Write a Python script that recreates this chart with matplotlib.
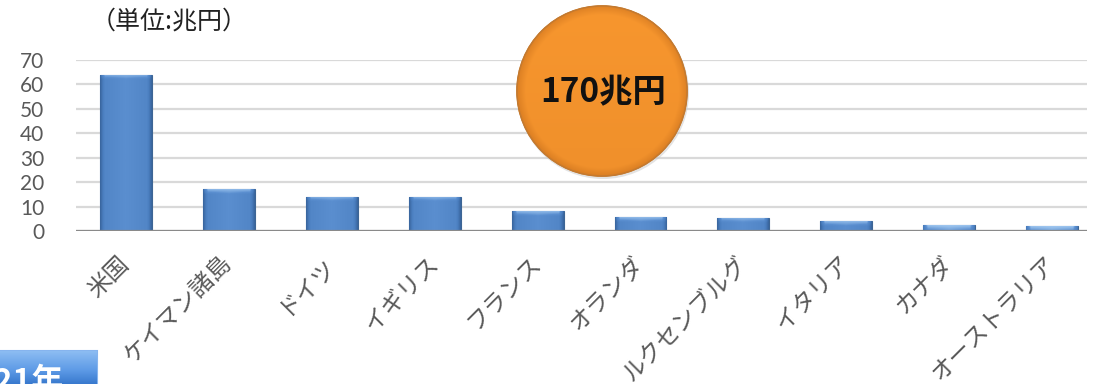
import numpy as np
import matplotlib
matplotlib.use("Agg")
import matplotlib.pyplot as plt
from matplotlib.patches import Rectangle, Ellipse
from matplotlib.colors import LinearSegmentedColormap

# Data (兆円)
countries = ["米国", "ケイマン諸島", "ドイツ", "イギリス", "フランス",
             "オランダ", "ルクセンブルグ", "イタリア", "カナダ", "オーストラリア"]
values = [64, 17, 14, 14, 8, 5.6, 5.4, 4, 2.6, 2.2]
y_ticks = [0, 10, 20, 30, 40, 50, 60, 70]
total_label = "170兆円"
unit_label = "（単位:兆円）"
year_label = "2021年"

W, H = 1097, 384
DPI = 100
fig = plt.figure(figsize=(W / DPI, H / DPI), dpi=DPI)
fig.patch.set_facecolor("white")

CJK = ["Noto Sans CJK JP", "DejaVu Sans"]
GRAY = "#595959"

# main axes placed in pixel units
ax_l, ax_r, ax_b, ax_t = 76, 1087, 153, 324
ax = fig.add_axes([ax_l / W, ax_b / H, (ax_r - ax_l) / W, (ax_t - ax_b) / H])
step = 102.9
x0 = 126
xlim = (-(x0 - ax_l) / step, (ax_r - x0) / step)
ax.set_xlim(*xlim)
ax.set_ylim(0, 70)
for s in ax.spines.values():
    s.set_visible(False)

ax.set_yticks(y_ticks)
ax.tick_params(axis="y", length=0, pad=23, labelsize=15, labelcolor=GRAY)
for lab in ax.get_yticklabels():
    lab.set_fontfamily(["Lato", "DejaVu Sans"])
ax.yaxis.grid(True, color="#d9d9d9", linewidth=1.6, zorder=0)
ax.set_axisbelow(True)
ax.axhline(0, color="#8a8a8a", linewidth=1.6, zorder=4)

x = np.arange(len(countries))
bars = ax.bar(x, values, width=0.505, color="#4a7ebf", edgecolor="#3d6594",
              linewidth=0.8, zorder=2)

ax.set_xticks(x)
ax.set_xticklabels(countries, rotation=45, ha="right", va="center",
                   rotation_mode="anchor", fontsize=17, color=GRAY,
                   fontfamily=CJK)
ax.tick_params(axis="x", length=0, pad=21)

# bevelled gradient fill for each bar
bevel = LinearSegmentedColormap.from_list(
    "bevel", ["#30588c", "#4a7ebf", "#5b8fd0", "#9cc4ee"])
px_per_unit = (ax_t - ax_b) / 70.0
for b in bars:
    bx, by = b.get_x(), b.get_y()
    bw, bh = b.get_width(), b.get_height()
    wpx = 52
    hpx = max(int(round(bh * px_per_unit)), 2)
    xs = np.arange(wpx) + 0.5
    ys = np.arange(hpx) + 0.5  # from top
    edge_x = np.minimum(xs, wpx - xs)
    side = np.clip(edge_x / 5.0, 0, 1)
    top = np.clip(ys / 5.0, 0, 1)
    body = 0.45 + 0.2 * (1 - np.abs(xs - wpx / 2) / (wpx / 2))
    img = np.empty((hpx, wpx))
    for i in range(hpx):
        row = body * side + 0.1 * (1 - side)
        if top[i] < 1:
            row = row * top[i] + 0.95 * (1 - top[i]) * side + 0.1 * (1 - side) * (1 - top[i])
        img[i] = row
    if hpx <= 8:
        img = np.clip(img + 0.15, 0, 1)
    im = ax.imshow(img, cmap=bevel, vmin=0, vmax=1, aspect="auto",
                   extent=(bx, bx + bw, by, by + bh), origin="upper",
                   zorder=3, interpolation="bilinear")
    im.set_clip_path(b)
ax.set_xlim(*xlim)
ax.set_ylim(0, 70)

# overlay in pixel coordinates for the decorations
ov = fig.add_axes([0, 0, 1, 1], zorder=5)
ov.set_xlim(0, W)
ov.set_ylim(0, H)
ov.axis("off")
ov.patch.set_alpha(0)

ov.text(91, H - 22, unit_label, fontsize=18, fontfamily=CJK, color="#222222",
        ha="left", va="center")

# total badge
cx, cy, r = 602, H - 91, 85
ov.add_patch(Ellipse((cx + 1, cy - 2), 2 * r + 2, 2 * r + 2,
                     facecolor="#c8c8c8", edgecolor="none", alpha=0.5))
disc = Ellipse((cx, cy), 2 * r, 2 * r, facecolor="#f39433",
               edgecolor="#c4782a", linewidth=1.2)
ov.add_patch(disc)
gy, gx = np.mgrid[0:200, 0:200]
rr = np.hypot(gx - 100, gy - 100) / 100.0
shade = 1 - 0.25 * np.clip((rr - 0.9) / 0.1, 0, 1) - 0.08 * (gy / 200.0)
orange = LinearSegmentedColormap.from_list("orng", ["#c9701c", "#f7962e"])
oim = ov.imshow(shade, cmap=orange, vmin=0.5, vmax=1.0, origin="upper",
                extent=(cx - r, cx + r, cy - r, cy + r), aspect="auto",
                interpolation="bilinear", zorder=2)
oim.set_clip_path(disc)
ov.add_patch(Ellipse((cx, cy), 2 * r, 2 * r, facecolor="none",
                     edgecolor="#c47a30", linewidth=1.0, zorder=3))
ov.text(cx + 1, cy - 2, total_label, fontsize=24, fontweight="bold",
        fontfamily=CJK, color="#111111", ha="center", va="center", zorder=4)

# year button (partly outside the canvas)
btn = Rectangle((-10, -5), 107, 38, facecolor="#3b7ed6",
                edgecolor="#86b4ee", linewidth=1.5)
ov.add_patch(btn)
by_, bx_ = np.mgrid[0:60, 0:100]
bshade = 1 - by_ / 60.0
blue = LinearSegmentedColormap.from_list("blu", ["#2a6cc4", "#5d9ae6", "#8cbcf2"])
bim = ov.imshow(bshade, cmap=blue, vmin=0, vmax=1, origin="upper",
                extent=(-10, 97, -5, 33), aspect="auto", zorder=2)
bim.set_clip_path(btn)
ov.text(64, -7, year_label, fontsize=23, fontweight="bold", fontfamily=CJK,
        color="white", ha="right", va="baseline", zorder=4)

fig.savefig("out.png", dpi=DPI)
